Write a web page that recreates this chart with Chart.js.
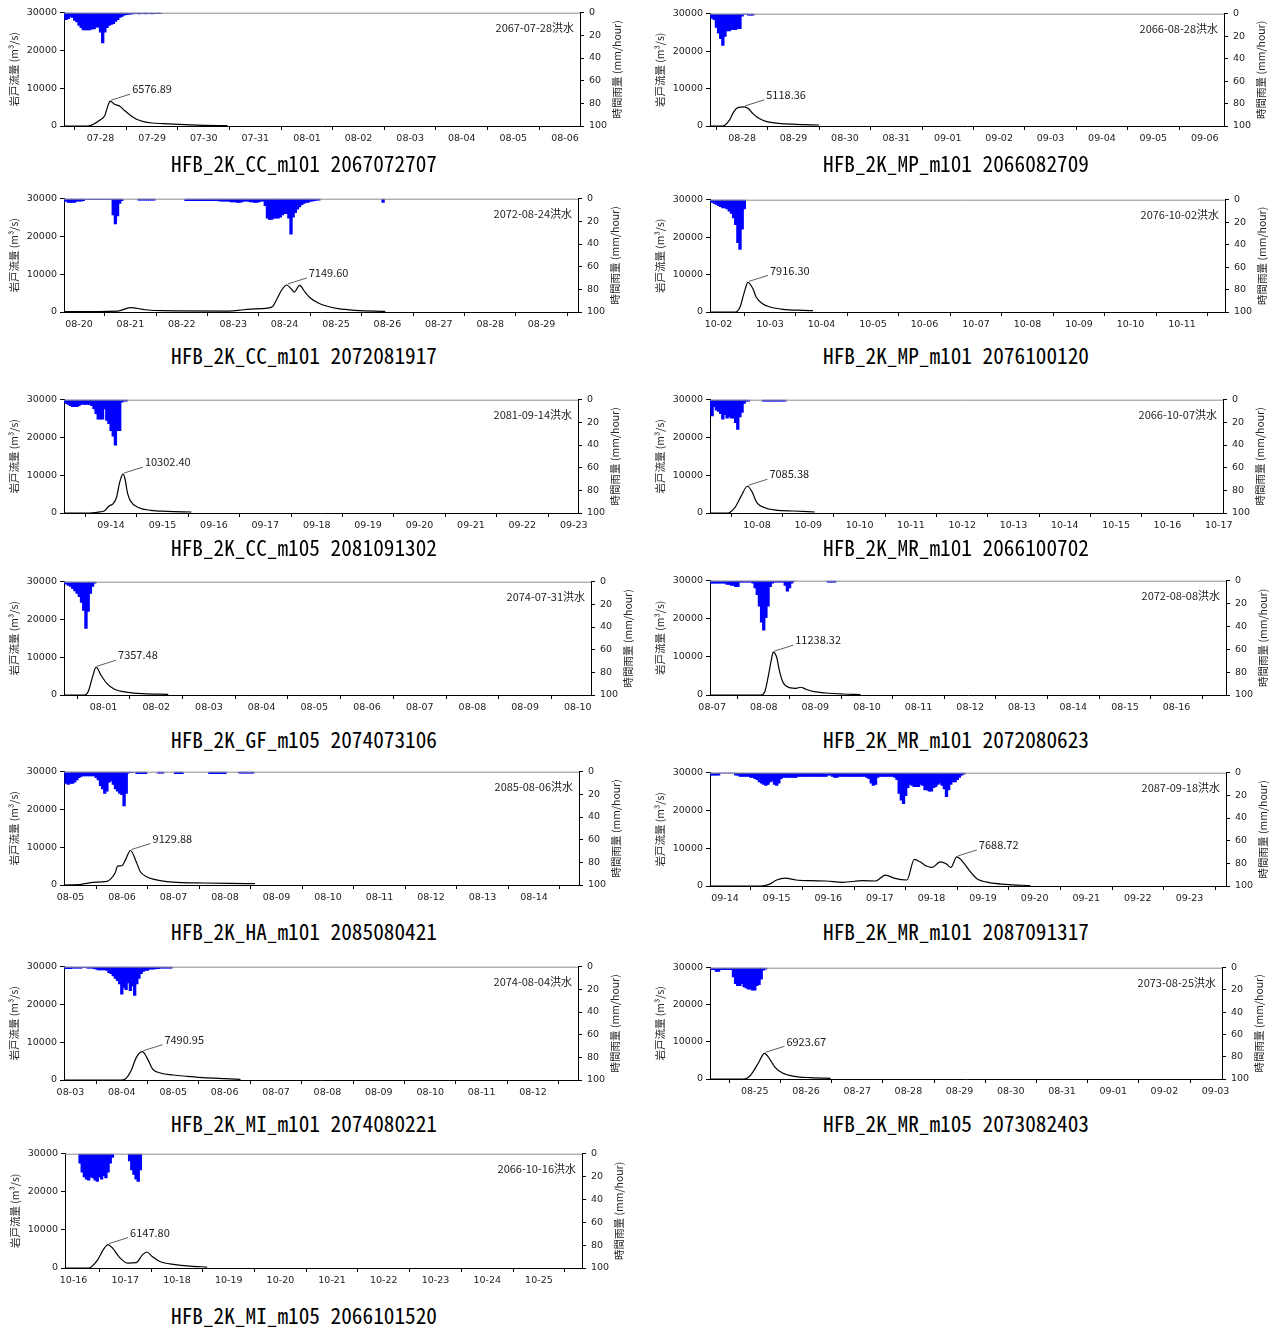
<!DOCTYPE html>
<html>
<head>
<meta charset="utf-8">
<script src="https://cdn.jsdelivr.net/npm/chart.js@4.4.1/dist/chart.umd.min.js"></script>
<style>
  body { margin: 0; background: #fff; }
  #page { position: relative; width: 1279px; height: 1329px; overflow: hidden; }
  #page canvas { position: absolute; }
  .ptitle { position: absolute; white-space: nowrap; line-height: 1; color: #000;
            font-family: "Noto Sans Mono CJK JP", "Noto Sans CJK JP", sans-serif; font-size: 22px; }
</style>
</head>
<body>
<div id="page"></div>
<script>
// panel titles (last token = start time YYYYMMDDHH of the 10-day window)
const panelTitles = [
  'HFB_2K_CC_m101 2067072707', 'HFB_2K_MP_m101 2066082709',
  'HFB_2K_CC_m101 2072081917', 'HFB_2K_MP_m101 2076100120',
  'HFB_2K_CC_m105 2081091302', 'HFB_2K_MR_m101 2066100702',
  'HFB_2K_GF_m105 2074073106', 'HFB_2K_MR_m101 2072080623',
  'HFB_2K_HA_m101 2085080421', 'HFB_2K_MR_m101 2087091317',
  'HFB_2K_MI_m101 2074080221', 'HFB_2K_MR_m105 2073082403',
  'HFB_2K_MI_m105 2066101520'
];
const floodLabels = [
  '2067-07-28洪水', '2066-08-28洪水', '2072-08-24洪水', '2076-10-02洪水',
  '2081-09-14洪水', '2066-10-07洪水', '2074-07-31洪水', '2072-08-08洪水',
  '2085-08-06洪水', '2087-09-18洪水', '2074-08-04洪水', '2073-08-25洪水',
  '2066-10-16洪水'
];

// flow: hours after window start, discharge (m3/s)
const flowHours = [
  [0, 11, 17, 19, 20, 21.5, 23.5, 26, 28, 31, 34, 37, 41, 46, 56, 65, 76],
  [0, 6, 9, 11, 13, 16, 18, 20, 23, 26.5, 32, 40, 51],
  [0, 25, 31, 38, 46, 77, 84, 92, 97, 99.5, 101.5, 104, 106, 107.5, 110, 112.5, 115, 118.5, 122.5, 128, 136, 150],
  [0, 12, 14, 16, 17.7, 20, 21.5, 24.5, 28, 34, 43.5, 48],
  [0, 12, 16, 19, 21, 23, 24.5, 26, 27.5, 28.5, 29.6, 31, 35, 40.5, 48, 59.5],
  [0, 8.5, 11.5, 14.5, 17.5, 19.5, 22, 26, 31.5, 39, 49],
  [0, 9.3, 11, 13, 14.6, 16.8, 19.5, 23, 29, 36, 47.5],
  [0, 23.7, 25.6, 27, 28.5, 29.4, 31, 32.3, 34, 37, 40, 42.3, 44.6, 48.4, 54, 61.7, 70],
  [0, 8, 13.7, 20, 22, 23.8, 25, 27, 28.6, 31, 33.7, 35.6, 38.5, 42, 48, 55.6, 65, 76.6, 89],
  [0, 23.7, 27.5, 31, 35, 40, 46.5, 54, 61.7, 71, 77, 81.6, 86, 91.6, 95, 97.7, 100.6, 103.4, 107, 110, 112, 114.8, 117.6, 120.5, 124, 130, 137.6, 149],
  [0, 27, 29, 31.3, 33.8, 36.6, 39, 41.4, 45, 51, 57.6, 65, 75, 82.4],
  [0, 16, 18, 20, 23, 25.5, 28, 30.5, 34, 39.5, 47, 56.5],
  [0, 11, 15, 18, 20, 22, 25, 29, 33, 36, 38, 40.5, 44, 51, 58, 66]
];
const flowValues = [
  [0, 0, 1700, 2800, 4600, 6576.89, 5750, 5200, 4150, 2800, 1700, 1150, 800, 620, 350, 180, 90],
  [0, 0, 1500, 3700, 4900, 5118.36, 4600, 3300, 2000, 1150, 700, 450, 270],
  [100, 250, 1150, 600, 350, 250, 600, 880, 1300, 3500, 5700, 7149.60, 6200, 5300, 7050, 5300, 3700, 2470, 1600, 880, 440, 180],
  [0, 0, 1330, 5300, 7916.30, 6200, 4000, 2200, 1330, 700, 440, 350],
  [0, 0, 250, 600, 1860, 2500, 4100, 8100, 10302.40, 9000, 5400, 3200, 1400, 710, 440, 270],
  [0, 0, 1330, 4400, 7085.38, 5800, 2700, 1330, 710, 530, 270],
  [0, 0, 880, 4800, 7357.48, 5300, 3100, 1500, 700, 350, 180],
  [0, 0, 1060, 4600, 9170, 11238.32, 9900, 6350, 3260, 1940, 1760, 2030, 1500, 880, 530, 265, 90],
  [0, 180, 700, 970, 1750, 3200, 5000, 5100, 6580, 9129.88, 6100, 3500, 2200, 1500, 880, 610, 530, 440, 350],
  [0, 0, 440, 1590, 2100, 1590, 1400, 1320, 970, 1400, 1320, 2900, 2000, 1590, 7050, 6400, 5300, 4940, 6400, 5800, 4900, 7688.72, 6400, 4200, 2000, 880, 440, 90],
  [0, 0, 440, 2460, 6000, 7490.95, 5600, 2900, 1850, 1320, 970, 620, 350, 180],
  [0, 0, 450, 1800, 4660, 6923.67, 5380, 3140, 1600, 720, 360, 180],
  [0, 0, 2000, 5000, 6147.80, 5300, 3000, 1300, 1400, 3500, 4200, 3000, 1700, 900, 500, 250]
];

// hourly rainfall (mm/hour): runs of [first hour, values...]
const rainRuns = [
  [[0, [3, 6, 5, 3.5, 4, 6.5, 8, 11, 13, 15, 15, 15, 15, 14, 14, 12.5, 12.5, 17, 26.5, 17, 13, 11, 10, 9.5, 7.5, 6, 4, 3, 2, 1.5, 1.2, 1, 0.8, 0.6, 0.6, 0.8, 0.6, 0.6, 0.8, 0.6, 0.5, 0.8, 0.6, 0.5, 0.6, 0.5]]],
  [[0, [3, 4, 5, 12, 17, 22, 28, 20, 15, 15, 14, 14, 14, 13, 13, 2, 0, 0, 1, 1, 1]]],
  [[0, [2, 2, 3, 3, 3, 3, 2, 2, 2, 1.5, 0.5, 0.5, 0.5, 0.5, 0.5, 0.5, 0.5, 0.5, 0.5, 0.5, 0.5, 0.5, 0.5, 14, 22, 15, 4, 1.5]],
   [35, [1, 1, 1, 1, 1, 1, 1, 1]],
   [57, [1.5, 1.5, 1.5, 1.5, 1.5, 1.5, 1.5, 1.5, 1.5, 1.5, 1.5, 1.5, 1.5, 1.5, 1.5, 1.5]],
   [73, [2, 2, 2, 2, 2, 2.5, 2.5, 2.5, 3, 3, 2.5, 2, 2, 2, 2.5, 2.5, 3, 3, 2.5, 2, 2]],
   [94, [6, 17, 18, 18, 17, 17, 17, 16, 14, 13, 13, 17, 31, 16, 12, 9, 7, 5, 4, 3, 3, 2, 2, 1.5, 1, 1]],
   [149, [3]]],
  [[0, [2, 2, 3, 4, 5, 6, 7, 7, 8, 10, 12, 16, 22, 38, 44, 26, 8]]],
  [[0, [2, 3, 4, 5, 6, 6, 6, 5, 4, 4, 4, 4, 4, 5, 8, 12, 17, 17, 17, 8, 18, 21, 27, 32, 40, 27, 27, 2, 1, 1]]],
  [[0, [8, 14, 6, 9, 10, 12, 17, 13, 16, 15, 16, 16, 20, 26, 15, 11, 3, 1, 1]],
   [25, [1, 1, 1, 1, 1, 1, 1, 1, 1, 1, 1]]],
  [[0, [1, 2, 3, 4, 6, 8, 10, 13, 18, 25, 41, 26, 10, 4, 1]]],
  [[0, [2, 2, 2, 2, 2, 2, 2, 2, 3, 3, 4, 4, 5, 5, 1, 1, 1, 1, 1, 1, 2, 6, 12, 22, 36, 43, 32, 22, 5, 2, 1, 1, 1, 1, 1, 4, 9, 6, 2, 0.5]],
   [55, [1, 1, 1, 1]]],
  [[0, [1, 10, 11, 10, 10, 9, 7, 5, 4, 3.5, 3.5, 3.5, 3.5, 3.5, 3.5, 5, 7, 12, 15, 19, 17, 9, 8, 11, 15, 17, 19, 20, 30, 19, 1, 0.5, 0.5]],
   [34, [1.5, 1.5, 1.5, 1.5, 1.5]],
   [44, [1, 1, 1]],
   [52, [1.5, 1.5, 1.5, 1.5]],
   [68, [1.5, 1.5, 1.5, 1.5, 1.5, 1.5, 1.5, 1.5]],
   [82, [1, 1, 1, 1, 1, 1, 1]]],
  [[0, [2, 2, 2, 2, 2, 0, 0, 0, 0, 0, 0, 0, 2, 2, 3, 3, 3, 3, 3, 4, 4, 5,
        6, 8, 9, 10, 11, 10, 8, 7, 10, 11, 9, 5, 4, 4, 4, 4, 4, 4, 4, 3,
        3, 3, 3, 3, 3, 3, 3, 3, 3, 3, 3, 3, 3, 2, 2, 3, 4, 4, 3, 3, 3, 3, 3, 3, 3, 3,
        3, 3, 3, 3, 3, 4, 5, 9, 11, 10, 4, 3, 3, 3, 3, 3, 3, 3, 4, 6,
        18, 24, 27, 20, 13, 10, 11, 12, 12, 12, 10, 11, 15, 15, 16, 16, 13, 12,
        10, 9, 11, 14, 21, 15, 10, 8, 8, 6, 4, 2, 1]]],
  [[0, [1.5, 1.5, 1.5, 1.5, 1, 1, 1, 1, 1, 0.5, 0.5, 1, 1, 1, 1.5, 2, 2.5, 2.5, 2.5, 2.5, 3,
        5, 6, 8, 10, 12, 15, 24, 18, 20, 14, 21, 17, 25, 15, 10, 6, 4, 3, 3, 2, 2, 2, 1.5, 1.5,
        1, 1, 1, 1, 1, 1]]],
  [[0, [1, 1.5, 1.5, 3, 3, 1.5, 1.5, 1.5, 1.5, 1.5, 1.5, 8, 14, 16, 16, 14, 17, 18, 19, 19, 20, 20, 16, 15, 10, 2, 1]]],
  [[7, [8, 16, 20, 22, 23, 20, 21, 23, 24, 20, 22, 19, 21, 16, 8, 3]],
   [30, [6, 14, 18, 22, 24, 14]]]
];

// layout: plot area [left, right, top, bottom] and title centre, page pixels
const plotBoxes = [
  [64, 580, 12, 126], [710, 1224, 13, 126],
  [64, 578, 198, 312], [710, 1225, 199, 312],
  [64, 578, 399, 513], [710, 1223, 399, 513],
  [64, 591, 581, 695], [710, 1226, 580, 695],
  [64, 579, 771, 885], [710, 1226, 772, 886],
  [64, 578, 966, 1080], [710, 1222, 967, 1079],
  [65, 582, 1153, 1268]
];
const titleCenters = [
  [304, 162], [956, 162], [304, 354], [956, 354], [304, 546], [956, 546],
  [304, 738], [956, 738], [304, 930], [956, 930], [304, 1122], [956, 1122],
  [304, 1314]
];

Chart.defaults.font.family = '"DejaVu Sans", sans-serif';
Chart.defaults.font.size = 9.5;
Chart.defaults.color = '#222';

const JP = '"Noto Sans CJK JP", sans-serif';
const TITLE_FONT = '22px "Noto Sans Mono CJK JP", "Noto Sans CJK JP", sans-serif';

// draws top spine, axis titles, flood label and the peak note
const panelDecor = {
  id: 'panelDecor',
  afterDraw(chart, args, opts) {
    const ctx = chart.ctx;
    const a = chart.chartArea;
    ctx.save();
    ctx.strokeStyle = '#8c8c8c';
    ctx.lineWidth = 1;
    ctx.beginPath();
    ctx.moveTo(a.left, a.top + 0.5);
    ctx.lineTo(a.right, a.top + 0.5);
    ctx.stroke();

    ctx.fillStyle = '#222';
    ctx.font = '10.5px ' + JP;
    ctx.textAlign = 'center';
    ctx.textBaseline = 'middle';
    const mid = (a.top + a.bottom) / 2;
    [[a.left - 50, '岩戸流量 (m³/s)'], [a.right + 37, '時間雨量 (mm/hour)']].forEach(([x, t]) => {
      ctx.save();
      ctx.translate(x, mid);
      ctx.rotate(-Math.PI / 2);
      ctx.fillText(t, 0, 0);
      ctx.restore();
    });

    ctx.font = '11px ' + JP;
    ctx.textAlign = 'right';
    ctx.fillText(opts.label, a.right - 6, a.top + 15);

    const pts = chart.data.datasets[0].data;
    const peak = pts.reduce((m, p) => (p.y > m.y ? p : m));
    const px = chart.scales.x.getPixelForValue(peak.x);
    const py = chart.scales.yL.getPixelForValue(peak.y);
    ctx.strokeStyle = '#333';
    ctx.lineWidth = 0.8;
    ctx.beginPath();
    ctx.moveTo(px + 1, py - 1);
    ctx.lineTo(px + 20, py - 7);
    ctx.stroke();
    ctx.textAlign = 'left';
    ctx.fillText(peak.y.toFixed(2), px + 22, py - 12);
    ctx.restore();
  }
};

const page = document.getElementById('page');
const measure = document.createElement('canvas').getContext('2d');
measure.font = TITLE_FONT;

panelTitles.forEach((title, i) => {
  const [pl, pr, pt, pb] = plotBoxes[i];
  const col = pl < 640 ? 0 : 640;
  const cw = col === 0 ? 640 : 639;
  const top = pt - 10;
  const ch = pb - pt + 10 + 22;

  const stamp = title.split(' ')[1];
  const t0 = Date.UTC(+stamp.slice(0, 4), +stamp.slice(4, 6) - 1, +stamp.slice(6, 8), +stamp.slice(8, 10));
  const startHour = +stamp.slice(8, 10);
  const dayLabel = v => {
    const d = new Date(t0 + v * 3600000);
    return String(d.getUTCMonth() + 1).padStart(2, '0') + '-' + String(d.getUTCDate()).padStart(2, '0');
  };

  const flow = flowHours[i].map((h, k) => ({ x: h, y: flowValues[i][k] }));
  const rain = rainRuns[i].flatMap(([h0, vals]) => vals.map((v, k) => ({ x: h0 + k, y: v })));

  const canvas = document.createElement('canvas');
  canvas.width = cw;
  canvas.height = ch;
  canvas.style.width = cw + 'px';
  canvas.style.height = ch + 'px';
  canvas.style.left = col + 'px';
  canvas.style.top = top + 'px';
  page.appendChild(canvas);

  new Chart(canvas.getContext('2d'), {
    type: 'line',
    data: {
      datasets: [
        {
          type: 'line', data: flow, yAxisID: 'yL', order: 1,
          borderColor: '#000', borderWidth: 1.2, pointRadius: 0,
          cubicInterpolationMode: 'monotone', fill: false
        },
        {
          type: 'bar', data: rain, yAxisID: 'yR', order: 2,
          backgroundColor: '#0000ff', borderWidth: 0, inflateAmount: 0.6,
          barPercentage: 1, categoryPercentage: 1
        }
      ]
    },
    options: {
      responsive: false,
      animation: false,
      devicePixelRatio: 1,
      layout: { padding: { top: 10, left: 0, right: 0, bottom: 0 } },
      plugins: {
        legend: { display: false },
        tooltip: { enabled: false },
        panelDecor: { label: floodLabels[i] }
      },
      scales: {
        x: {
          type: 'linear', min: 0, max: 240, offset: false,
          afterBuildTicks: axis => {
            const ticks = [];
            for (let h = (24 - startHour) % 24; h <= 240; h += 24) ticks.push({ value: h });
            axis.ticks = ticks;
          },
          afterFit: s => { s.height = 22; },
          grid: { drawOnChartArea: false, drawTicks: true, tickLength: 4, color: '#000' },
          border: { display: true, color: '#000', width: 1 },
          ticks: { autoSkip: false, maxRotation: 0, padding: 3, callback: v => dayLabel(v) }
        },
        yL: {
          position: 'left', min: 0, max: 30000,
          afterFit: s => { s.width = pl - col; },
          grid: { drawOnChartArea: false, drawTicks: true, tickLength: 4, color: '#000' },
          border: { display: true, color: '#000', width: 1 },
          ticks: { stepSize: 10000, padding: 3, callback: v => String(v) }
        },
        yR: {
          position: 'right', min: 0, max: 100, reverse: true,
          afterFit: s => { s.width = col + cw - pr; },
          grid: { drawOnChartArea: false, drawTicks: true, tickLength: 4, color: '#000' },
          border: { display: true, color: '#000', width: 1 },
          ticks: { stepSize: 20, padding: 5 }
        }
      }
    },
    plugins: [panelDecor]
  });

  const div = document.createElement('div');
  div.className = 'ptitle';
  div.textContent = title;
  const [cx, cy] = titleCenters[i];
  div.style.left = cx + 'px';
  div.style.top = cy + 'px';
  const k = 266 / measure.measureText(title).width;
  div.style.transform = 'translate(-50%, -50%) scaleX(' + k.toFixed(3) + ')';
  page.appendChild(div);
});
</script>
</body>
</html>
